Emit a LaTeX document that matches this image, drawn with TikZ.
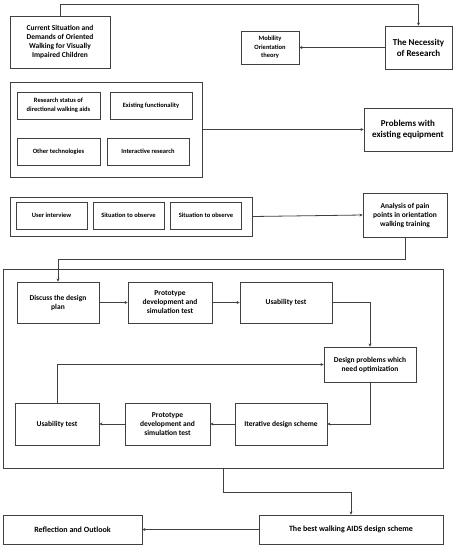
\documentclass[tikz,border=0pt]{standalone}
\usepackage{fontspec}
\setmainfont{Carlito}
\usetikzlibrary{arrows.meta, calc}

\begin{document}
\begin{tikzpicture}[x=1pt, y=-1pt,
        box/.style={draw=black!75, line width=0.9pt, align=center, inner sep=1pt, font=\bfseries\fontsize{7.5}{9}\selectfont},
        small/.style={box, font=\bfseries\fontsize{6.5}{8.5}\selectfont},
        big/.style={box, font=\bfseries\fontsize{9}{11}\selectfont},
        link/.style={draw=black!75, line width=0.8pt, -{Stealth[length=3pt, width=3pt]}}]
        \useasboundingbox (0,0) rectangle (460,550);
        
        % top row
        \node[box, minimum width=100pt, minimum height=52pt] (cur) at (60,42) {Current Situation and\\Demands of Oriented\\Walking for Visually\\Impaired Children};
        \node[big, minimum width=67pt, minimum height=43pt] (need) at (418.5,47.5) {The Necessity\\of Research};
        \node[small, minimum width=58pt, minimum height=33pt] (mob) at (270,47.5) {Mobility\\Orientation\\theory};
        \draw[link] (cur.north) -- ++(0,-11) -| (need.north);
        \draw[link] (need.west) -- (mob.east);
        
        % existing research
        \node[box, minimum width=192pt, minimum height=95pt] (grpA) at (106,129.5) {};
        \node[small, minimum width=83pt, minimum height=27pt] (ra) at (58.5,105.5) {Research status of\\directional walking aids};
        \node[small, minimum width=82pt, minimum height=27pt] (ef) at (151,105.5) {Existing functionality};
        \node[small, minimum width=83pt, minimum height=27pt] (ot) at (58.5,151.5) {Other technologies};
        \node[small, minimum width=82pt, minimum height=27pt] (ir) at (148,151.5) {Interactive research};
        \node[big, minimum width=88pt, minimum height=43pt] (prob) at (408,129.5) {Problems with\\existing equipment};
        \draw[link] (grpA.east) -- (prob.west);
        
        % user research
        \node[box, minimum width=242pt, minimum height=39pt] (grpB) at (131,216.5) {};
        \foreach \n/\x/\t in {ui/51.5/User interview, so1/128.5/Situation to observe, so2/206/Situation to observe} {
            \node[small, minimum width=71pt, minimum height=27pt] (\n) at (\x,215.5) {\t};
        }
        \node[box, minimum width=84pt, minimum height=44pt] (ana) at (405,215) {Analysis of pain\\points in orientation\\walking training};
        \draw[link] (grpB.east) -- (ana.west);
        
        % design loop
        \node[box, minimum width=440pt, minimum height=199pt] (loop) at (223,368.5) {};
        \node[box, minimum width=82pt, minimum height=41pt] (dis) at (58,302.5) {Discuss the design\\plan};
        \node[box, minimum width=84pt, minimum height=41pt] (pr1) at (170,302.5) {Prototype\\development and\\simulation test};
        \node[box, minimum width=92pt, minimum height=41pt] (us1) at (286,302.5) {Usability test};
        \node[box, minimum width=92pt, minimum height=35pt] (des) at (370,364.5) {Design problems which\\need optimization};
        \node[box, minimum width=84pt, minimum height=42pt] (us2) at (57,424) {Usability test};
        \node[box, minimum width=85pt, minimum height=42pt] (pr2) at (167.5,424) {Prototype\\development and\\simulation test};
        \node[box, minimum width=92pt, minimum height=42pt] (it) at (281,424) {Iterative design scheme};
        
        \draw[link] (ana.south) -- ++(0,22) -| (dis.north);
        \draw[link] (dis.east) -- (pr1.west);
        \draw[link] (pr1.east) -- (us1.west);
        \draw[link] (us1.east) -| (des.north);
        \draw[link] (des.south) |- (it.east);
        \draw[link] (it.west) -- (pr2.east);
        \draw[link] (pr2.west) -- (us2.east);
        \draw[link] (us2.north) |- (des.west);
        
        % result
        \node[box, font=\bfseries\fontsize{8}{10}\selectfont, minimum width=184pt, minimum height=29pt] (best) at (351,529.5) {The best walking AIDS design scheme};
        \node[box, font=\bfseries\fontsize{8}{10}\selectfont, minimum width=139pt, minimum height=29pt] (refl) at (72.5,529.5) {Reflection and Outlook};
        \draw[link] (loop.south) -- ++(0,24) -| (best.north);
        \draw[link] (best.west) -- (refl.east);
        
    \end{tikzpicture}
\end{document}
